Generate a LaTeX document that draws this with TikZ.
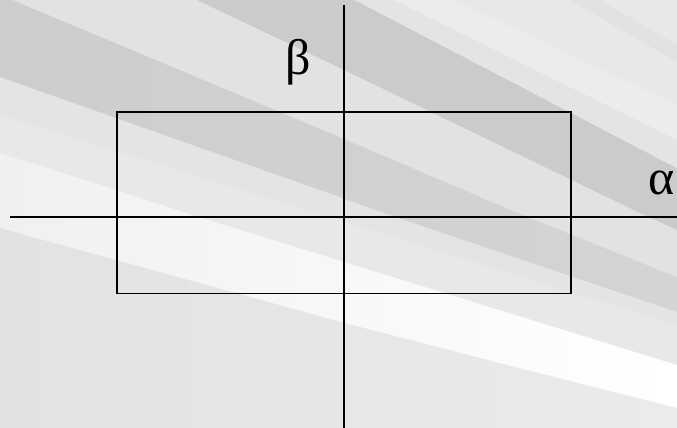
\documentclass[tikz,border=0pt]{standalone}
\usepackage{fontspec}
\setmainfont{Liberation Serif}
\definecolor{bgbase}{HTML}{E4E4E4}
\definecolor{darkA}{HTML}{CBCBCB}
\definecolor{darkB}{HTML}{CDCDCD}
\definecolor{darkBr}{HTML}{D4D4D4}
\definecolor{lightA}{HTML}{E2E2E2}
\definecolor{lightB}{HTML}{E8E8E8}
\definecolor{lightC}{HTML}{ECECEC}
\definecolor{brightL}{HTML}{F0F0F0}
\definecolor{lowL}{HTML}{E2E2E2}
\definecolor{lowR}{HTML}{EBEBEB}
\tikzset{
  axisline/.style={line width=2pt, black},
  framebox/.style={line width=1.6pt, black},
  greeklabel/.style={inner sep=0pt, font=\fontsize{50}{50}\selectfont},
}
\begin{document}
\begin{tikzpicture}[x=1pt,y=-1pt]
\useasboundingbox (0,0) rectangle (677,428);
% background
\fill[bgbase] (0,0) rectangle (677,428);
\shade[left color=lowL, right color=lowR] (0,228) -- (345,323) -- (519,368) -- (677,408) -- (677,428) -- (0,428) -- cycle;
\fill[lightB] (0,115) -- (677,325) -- (677,365) -- (186,213) -- (117,190) -- (0,153) -- cycle;
\shade[left color=brightL, right color=white] (0,153) -- (117,190) -- (186,213) -- (677,365) -- (677,408) -- (519,368) -- (345,323) -- (0,228) -- cycle;
\shade[left color=darkB, right color=darkBr] (0,0) -- (13,0) -- (340,137) -- (518,213) -- (677,277) -- (677,312) -- (384,213) -- (340,197) -- (0,77) -- cycle;
\fill[lightA] (13,0) -- (197,0) -- (340,68) -- (640,213) -- (677,230) -- (677,277) -- (518,213) -- (340,137) -- cycle;
\fill[darkA] (197,0) -- (355,0) -- (677,168) -- (677,230) -- (640,213) -- (340,68) -- cycle;
\fill[lightB] (355,0) -- (677,0) -- (677,168) -- cycle;
\fill[bgbase] (355,0) -- (394,0) -- (677,140) -- (677,168) -- cycle;
\fill[lightC] (394,0) -- (454,0) -- (677,105) -- (677,140) -- cycle;
\fill[lightA] (570,0) -- (600,0) -- (677,45) -- (677,62) -- cycle;
% foreground
\coordinate (hL) at (10,216.5);
\coordinate (hR) at (677,216.5);
\coordinate (vT) at (343.5,5);
\coordinate (vB) at (343.5,428);
\node[framebox, draw, minimum width=454pt, minimum height=181.5pt, inner sep=0pt, anchor=north west] (frame) at (116,111) {};
\draw[axisline] (hL) -- (hR);
\draw[axisline] (vT) -- (vB);
\node[greeklabel] (beta) at (298,62) {β};
\node[greeklabel] (alpha) at (662,183) {α};
\end{tikzpicture}
\end{document}
